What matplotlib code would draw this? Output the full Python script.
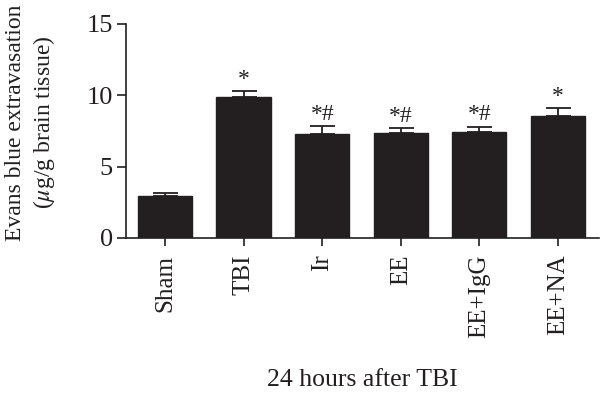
import matplotlib
matplotlib.use("Agg")
import matplotlib.pyplot as plt
import numpy as np

categories = ["Sham", "TBI", "Ir", "EE", "EE+IgG", "EE+NA"]
means = [2.95, 9.9, 7.29, 7.34, 7.43, 8.57]
errors = [0.18, 0.38, 0.54, 0.37, 0.37, 0.54]
marks = ["", "*", "*#", "*#", "*#", "*"]
yticks = [0, 5, 10, 15]

plt.rcParams['font.family'] = ['Liberation Serif', 'DejaVu Serif']
plt.rcParams['mathtext.fontset'] = 'stix'

fig = plt.figure(figsize=(6, 3.95), dpi=100)
ax = fig.add_axes([0.21, 0.3975, 0.788, 0.5418])

x = np.arange(len(categories))
col = '#231f20'
ax.bar(x, means, width=0.69, color=col, edgecolor=col, zorder=2)
ax.errorbar(x, means, yerr=[np.zeros(len(means)), errors], fmt='none',
            ecolor=col, elinewidth=1.3, capsize=9, capthick=1.3, zorder=1)

for xi, m, e, s in zip(x, means, errors, marks):
    if s:
        ax.text(xi, m + e + 0.1, s, ha='center', va='bottom', fontsize=17, color=col)

ax.set_xlim(-0.496, 5.52)
ax.set_ylim(0, 15)
ax.set_yticks(yticks)
ax.set_xticks(x)
ax.set_xticklabels(categories, rotation=90, fontsize=18)
ax.tick_params(axis='y', labelsize=19, length=6.5, width=1.2, pad=3, direction='out', colors=col)
ax.tick_params(axis='x', length=6, width=1.2, pad=6, direction='out', colors=col)
for sp in ['top', 'right']:
    ax.spines[sp].set_visible(False)
for sp in ['left', 'bottom']:
    ax.spines[sp].set_linewidth(1.2)
    ax.spines[sp].set_color(col)

ax.set_ylabel("Evans blue extravasation\n($\\mu$g/g brain tissue)", fontsize=17, linespacing=1.3, color=col)
ax.yaxis.set_label_coords(-0.145, 0.54)
ax.set_xlabel("24 hours after TBI", fontsize=18.5, color=col, labelpad=22)

fig.savefig("out.png", dpi=100)
